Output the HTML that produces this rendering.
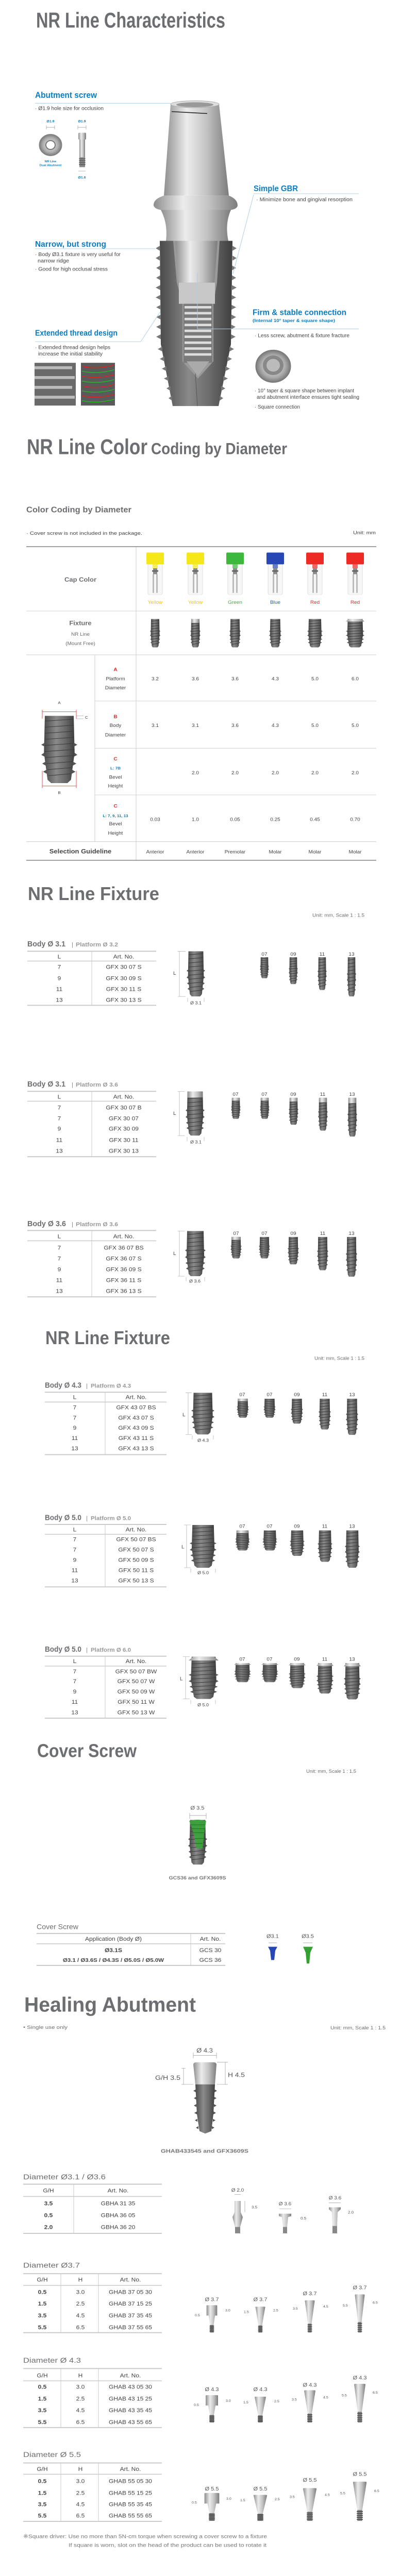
<!DOCTYPE html>
<html><head><meta charset="utf-8"><style>
html,body{margin:0;padding:0;background:#fff;height:100%;overflow:hidden}
svg{display:block;position:fixed;left:0;top:0;width:100vw;height:100vh}
text{font-family:"Liberation Sans",sans-serif}
</style></head><body>
<svg xmlns="http://www.w3.org/2000/svg" viewBox="0 0 776 5240" preserveAspectRatio="none">
<defs>
<linearGradient id="gs" x1="0" x2="1" y1="0" y2="0"><stop offset="0" stop-color="#8e8e8e"/><stop offset=".35" stop-color="#ececec"/><stop offset=".65" stop-color="#c4c4c4"/><stop offset="1" stop-color="#7c7c7c"/></linearGradient>
<linearGradient id="gf" x1="0" x2="1" y1="0" y2="0"><stop offset="0" stop-color="#4a4a4a"/><stop offset=".4" stop-color="#8a8a8a"/><stop offset=".7" stop-color="#6a6a6a"/><stop offset="1" stop-color="#3e3e3e"/></linearGradient>
<radialGradient id="gr"><stop offset="0" stop-color="#eee"/><stop offset=".7" stop-color="#aaa"/><stop offset="1" stop-color="#777"/></radialGradient>
<symbol id="fx" viewBox="0 0 40 100" preserveAspectRatio="none">
<path d="M4,0 H36 L37,55 L33,95 L29,100 H11 L7,95 L3,55 Z" fill="url(#gf)"/>
<path vector-effect="non-scaling-stroke" stroke="#3a3a3a" stroke-width="1" fill="none" d="M4,8 L36,5 M4,17 L36,14 M4,26 L36,23 M4,35 L36,32 M4,44 L36,41 M4,53 L37,50 M5,62 L36,59 M6,71 L35,68 M7,80 L34,77 M8,89 L33,86"/>
<path d="M4,40 L0,43 L4,46 Z M3,55 L0,58 L4,61 Z M5,68 L1,71 L5,74 Z M6,80 L2,83 L6,86 Z M36,40 L40,43 L36,46 Z M37,55 L40,58 L36,61 Z M35,68 L39,71 L35,74 Z M34,80 L38,83 L34,86 Z" fill="#555"/>
</symbol>
<symbol id="fxb" viewBox="0 0 40 100" preserveAspectRatio="none">
<use href="#fx" x="0" y="0" width="40" height="100"/>
<path d="M4,0 H36 L36,14 H4 Z" fill="url(#gs)"/>
</symbol>
<symbol id="fxw" viewBox="0 0 40 100" preserveAspectRatio="none">
<use href="#fx" x="0" y="0" width="40" height="100"/>
<path d="M6,0 H34 L40,9 H0 Z" fill="url(#gs)"/>
</symbol>
<symbol id="cap" viewBox="0 0 34 86" preserveAspectRatio="none">
<rect x="3" y="20" width="28" height="66" rx="4" fill="#f7f7f7" stroke="#ddd"/>
<rect x="0" y="0" width="34" height="24" rx="2" fill="currentColor"/>
<rect x="12" y="24" width="10" height="8" fill="currentColor" opacity=".7"/>
<rect x="13" y="32" width="8" height="12" fill="#8a8a8a"/>
<rect x="11" y="36" width="12" height="3" fill="#666"/>
<rect x="12" y="44" width="3" height="38" fill="#bbb"/>
<rect x="19" y="44" width="3" height="38" fill="#bbb"/>
</symbol>
<symbol id="ha1" viewBox="0 0 30 100" preserveAspectRatio="none">
<path d="M3,2 Q3,0 6,0 H24 Q27,0 27,2 V38 H22 L19,72 H11 L8,38 H3 Z" fill="url(#gs)"/>
<rect x="11" y="72" width="8" height="28" fill="#888"/>
<path d="M10,76 H20 M10,81 H20 M10,86 H20 M10,91 H20 M10,96 H20" stroke="#444" stroke-width="1.5" vector-effect="non-scaling-stroke"/>
</symbol>
<symbol id="ha2" viewBox="0 0 30 100" preserveAspectRatio="none">
<path d="M4,2 Q4,0 7,0 H23 Q26,0 26,2 L19,72 H11 Z" fill="url(#gs)"/>
<rect x="11" y="72" width="8" height="28" fill="#888"/>
<path d="M10,76 H20 M10,81 H20 M10,86 H20 M10,91 H20 M10,96 H20" stroke="#444" stroke-width="1.5" vector-effect="non-scaling-stroke"/>
</symbol>
</defs>

<text x="70" y="56" font-size="44" font-weight="bold" fill="#6d6e71" textLength="367" lengthAdjust="spacingAndGlyphs">NR Line Characteristics</text>

<g>
<path d="M331,212 L425,212 L444,398 L318,398 Z" fill="url(#gs)"/>
<ellipse cx="378" cy="212" rx="47" ry="7" fill="#ddd" stroke="#aaa"/>
<ellipse cx="378" cy="213" rx="36" ry="5" fill="#999"/>
<path d="M333,227 L402,231" stroke="#222" stroke-width="1.6"/>
<path d="M318,398 Q297,405 298,418 Q300,425 312,427 L448,427 Q460,425 461,418 Q461,405 444,398 Z" fill="url(#gs)"/>
<path d="M312,427 Q326,455 322,490 L443,490 Q436,455 448,427 Z" fill="url(#gs)"/>
<path d="M310,490 L451,490 L448,700 L424,826 L335,826 L312,700 Z" fill="url(#gf)"/>
<path d="M310,500 l-8,5 l8,5 Z M310,520 l-8,5 l8,5 Z M311,540 l-8,5 l8,5 Z M311,560 l-8,5 l8,5 Z M311,580 l-9,5 l9,5 Z M311,600 l-9,5 l9,5 Z M312,620 l-9,5 l9,5 Z M312,640 l-9,5 l9,5 Z M312,660 l-9,5 l9,5 Z M312,680 l-9,5 l9,5 Z M315,705 l-9,5 l9,5 Z M319,725 l-9,5 l9,5 Z M323,745 l-9,5 l9,5 Z M327,765 l-9,5 l9,5 Z M331,785 l-8,5 l8,5 Z M334,805 l-7,5 l7,5 Z" fill="#777"/>
<path d="M451,500 l8,5 l-8,5 Z M451,520 l8,5 l-8,5 Z M450,540 l8,5 l-8,5 Z M450,560 l8,5 l-8,5 Z M450,580 l9,5 l-9,5 Z M449,600 l9,5 l-9,5 Z M449,620 l9,5 l-9,5 Z M449,640 l9,5 l-9,5 Z M448,660 l9,5 l-9,5 Z M448,680 l9,5 l-9,5 Z M445,705 l9,5 l-9,5 Z M441,725 l9,5 l-9,5 Z M437,745 l9,5 l-9,5 Z M433,765 l9,5 l-9,5 Z M429,785 l8,5 l-8,5 Z M426,805 l7,5 l-7,5 Z" fill="#777"/>
<path d="M336,490 L426,490 L421,575 L414,618 L414,735 L384,770 L354,735 L354,618 L343,575 Z" fill="#9a9a9a"/>
<path d="M340,490 L422,490 L416,575 L346,575 Z" fill="url(#gs)"/>
<rect x="347" y="575" width="70" height="43" fill="#c8c8c8"/>
<rect x="356" y="618" width="56" height="120" fill="#7a7a7a"/>
<path d="M358,625 H410 M358,637 H410 M358,649 H410 M358,661 H410 M358,673 H410 M358,685 H410 M358,697 H410 M358,709 H410 M358,721 H410" stroke="#ddd" stroke-width="5"/>
<path d="M362,735 L406,735 L384,765 Z" fill="#aaa"/>
<path d="M379,760 L383,826" stroke="#555"/>
</g>

<text x="68" y="199" font-size="17" font-weight="bold" fill="#0b7dc4" textLength="120" lengthAdjust="spacingAndGlyphs">Abutment screw</text>
<line x1="68" y1="210" x2="331" y2="210" stroke="#a9cfe8"/>
<text x="68" y="224" font-size="10.5" fill="#444" textLength="133" lengthAdjust="spacingAndGlyphs">· Ø1.9 hole size for occlusion</text>
<text x="98" y="249" font-size="7" font-weight="bold" fill="#0b7dc4" text-anchor="middle">Ø1.9</text>
<text x="159" y="249" font-size="7" font-weight="bold" fill="#0b7dc4" text-anchor="middle">Ø1.9</text>
<path d="M90,259 H106 M90,255 V263 M106,255 V263 M151,259 H167 M151,255 V263 M167,255 V263" stroke="#999" stroke-width=".7"/>
<circle cx="98" cy="295" r="22" fill="url(#gr)" stroke="#888"/>
<circle cx="98" cy="295" r="9" fill="#fff" stroke="#777" stroke-width="2"/>
<rect x="152" y="270" width="15" height="14" rx="2" fill="url(#gs)"/>
<rect x="154" y="284" width="11" height="36" fill="url(#gs)"/>
<rect x="154" y="320" width="11" height="20" fill="#888"/>
<path d="M153,323 H166 M153,327 H166 M153,331 H166 M153,335 H166" stroke="#444"/>
<text x="98" y="330" font-size="6" font-weight="bold" fill="#0b7dc4" text-anchor="middle">NR Line</text>
<text x="98" y="338" font-size="6" font-weight="bold" fill="#0b7dc4" text-anchor="middle">Dual Abutment</text>
<path d="M152,348 H166" stroke="#999" stroke-width=".7"/>
<text x="159" y="363" font-size="7" font-weight="bold" fill="#0b7dc4" text-anchor="middle">Ø1.6</text>

<text x="492" y="389" font-size="16" font-weight="bold" fill="#0b7dc4" textLength="86" lengthAdjust="spacingAndGlyphs">Simple GBR</text>
<line x1="492" y1="394" x2="696" y2="394" stroke="#a9cfe8"/>
<line x1="492" y1="396" x2="452" y2="557" stroke="#a9cfe8"/>
<text x="497" y="409" font-size="10.5" fill="#444" textLength="187" lengthAdjust="spacingAndGlyphs">· Minimize bone and gingival resorption</text>

<text x="68" y="502" font-size="16" font-weight="bold" fill="#0b7dc4" textLength="138" lengthAdjust="spacingAndGlyphs">Narrow, but strong</text>
<line x1="68" y1="506" x2="301" y2="506" stroke="#a9cfe8"/>
<text x="68" y="521" font-size="10.5" fill="#444" textLength="166" lengthAdjust="spacingAndGlyphs">· Body Ø3.1 fixture is very useful for</text>
<text x="73" y="534" font-size="10.5" fill="#444" textLength="61" lengthAdjust="spacingAndGlyphs">narrow ridge</text>
<text x="68" y="551" font-size="10.5" fill="#444" textLength="141" lengthAdjust="spacingAndGlyphs">· Good for high occlusal stress</text>

<text x="490" y="641" font-size="16" font-weight="bold" fill="#0b7dc4" textLength="182" lengthAdjust="spacingAndGlyphs">Firm &amp; stable connection</text>
<text x="490" y="655" font-size="8.5" font-weight="bold" fill="#0b7dc4" textLength="160" lengthAdjust="spacingAndGlyphs">(Internal 10° taper &amp; square shape)</text>
<line x1="383" y1="669" x2="696" y2="669" stroke="#a9cfe8"/>
<line x1="383" y1="555" x2="383" y2="669" stroke="#a9cfe8"/>
<text x="494" y="686" font-size="10.5" fill="#444" textLength="184" lengthAdjust="spacingAndGlyphs">· Less screw, abutment &amp; fixture fracture</text>
<ellipse cx="530" cy="745" rx="34" ry="33" fill="url(#gr)" stroke="#777"/>
<circle cx="530" cy="743" r="20" fill="#888"/>
<circle cx="530" cy="743" r="13" fill="#bbb"/>
<text x="494" y="798" font-size="10.5" fill="#444" textLength="193" lengthAdjust="spacingAndGlyphs">· 10° taper &amp; square shape between implant</text>
<text x="498" y="811" font-size="10.5" fill="#444" textLength="199" lengthAdjust="spacingAndGlyphs">and abutment interface ensures tight sealing</text>
<text x="494" y="831" font-size="10.5" fill="#444" textLength="88" lengthAdjust="spacingAndGlyphs">· Square connection</text>

<text x="68" y="683" font-size="16" font-weight="bold" fill="#0b7dc4" textLength="160" lengthAdjust="spacingAndGlyphs">Extended thread design</text>
<line x1="68" y1="695" x2="273" y2="695" stroke="#a9cfe8"/>
<line x1="273" y1="695" x2="311" y2="634" stroke="#a9cfe8"/>
<text x="68" y="710" font-size="10.5" fill="#444" textLength="146" lengthAdjust="spacingAndGlyphs">· Extended thread design helps</text>
<text x="74" y="723" font-size="10.5" fill="#444" textLength="125" lengthAdjust="spacingAndGlyphs">increase the initial stability</text>
<rect x="67" y="738" width="80" height="87" fill="#6a6a6a"/>
<path d="M67,748 H140 M67,768 H145 M67,788 H140 M67,808 H145" stroke="#bbb" stroke-width="6"/>
<rect x="157" y="738" width="66" height="87" fill="#5a5a5a"/>
<path d="M159,745 Q190,752 222,742 M159,765 Q190,772 222,762 M159,785 Q190,792 222,782 M159,805 Q190,812 222,802" stroke="#d22" stroke-width="1.5" fill="none"/>
<path d="M159,755 Q190,762 222,752 M159,775 Q190,782 222,772 M159,795 Q190,802 222,792 M159,815 Q190,822 222,812" stroke="#2b2" stroke-width="1.5" fill="none"/>

<text x="52" y="924" font-size="44" font-weight="bold" fill="#6d6e71" textLength="234" lengthAdjust="spacingAndGlyphs">NR Line Color</text>
<text x="293" y="924" font-size="33" font-weight="bold" fill="#6d6e71" textLength="264" lengthAdjust="spacingAndGlyphs">Coding by Diameter</text>
<text x="51" y="1042" font-size="16" font-weight="bold" fill="#6d6e71" textLength="204" lengthAdjust="spacingAndGlyphs">Color Coding by Diameter</text>
<text x="51" y="1088" font-size="10" fill="#444" textLength="225" lengthAdjust="spacingAndGlyphs">· Cover screw is not included in the package.</text>
<text x="685" y="1087" font-size="10" fill="#444" textLength="44" lengthAdjust="spacingAndGlyphs">Unit: mm</text>

<g stroke="#ccc" stroke-width="1">
<line x1="51" y1="1243" x2="730" y2="1243"/>
<line x1="51" y1="1332" x2="730" y2="1332"/>
<line x1="184" y1="1426" x2="730" y2="1426"/>
<line x1="184" y1="1522" x2="730" y2="1522"/>
<line x1="184" y1="1617" x2="730" y2="1617"/>
<line x1="51" y1="1712" x2="730" y2="1712"/>
<line x1="264" y1="1112" x2="264" y2="1750"/>
<line x1="184" y1="1332" x2="184" y2="1712"/>
</g>
<line x1="51" y1="1112" x2="730" y2="1112" stroke="#999" stroke-width="2"/>
<line x1="51" y1="1750" x2="730" y2="1750" stroke="#999" stroke-width="2"/>

<use href="#cap" x="284" y="1124" width="34" height="86" color="#f5e719"/>
<use href="#cap" x="362" y="1124" width="34" height="86" color="#f5e719"/>
<use href="#cap" x="439" y="1124" width="34" height="86" color="#3cb83c"/>
<use href="#cap" x="517" y="1124" width="34" height="86" color="#2747b5"/>
<use href="#cap" x="594" y="1124" width="34" height="86" color="#ee2a24"/>
<use href="#cap" x="672" y="1124" width="34" height="86" color="#ee2a24"/>
<g font-size="10" text-anchor="middle">
<text x="301" y="1228" fill="#eec900">Yellow</text>
<text x="379" y="1228" fill="#eec900">Yellow</text>
<text x="456" y="1228" fill="#3cb44a">Green</text>
<text x="534" y="1228" fill="#1a5fc0">Blue</text>
<text x="611" y="1228" fill="#e8282a">Red</text>
<text x="689" y="1228" fill="#e8282a">Red</text>
</g>
<text x="156" y="1183" font-size="13" font-weight="bold" fill="#6d6e71" text-anchor="middle">Cap Color</text>
<text x="156" y="1272" font-size="13" font-weight="bold" fill="#6d6e71" text-anchor="middle">Fixture</text>
<text x="156" y="1293" font-size="10" fill="#6d6e71" text-anchor="middle">NR Line</text>
<text x="156" y="1312" font-size="10" fill="#6d6e71" text-anchor="middle">(Mount Free)</text>
<use href="#fx" x="291" y="1259" width="20" height="58"/>
<use href="#fxb" x="369" y="1259" width="20" height="58"/>
<use href="#fx" x="445" y="1259" width="22" height="58"/>
<use href="#fx" x="522" y="1259" width="24" height="58"/>
<use href="#fx" x="596" y="1259" width="30" height="58"/>
<use href="#fxw" x="671" y="1259" width="36" height="58"/>

<g font-size="10" fill="#444" text-anchor="middle">
<text x="224" y="1365" fill="#e8282a" font-weight="bold">A</text>
<text x="224" y="1384">Platform</text><text x="224" y="1402">Diameter</text>
<text x="301" y="1384">3.2</text><text x="379" y="1384">3.6</text><text x="456" y="1384">3.6</text><text x="534" y="1384">4.3</text><text x="611" y="1384">5.0</text><text x="689" y="1384">6.0</text>
<text x="224" y="1461" fill="#e8282a" font-weight="bold">B</text>
<text x="224" y="1479">Body</text><text x="224" y="1498">Diameter</text>
<text x="301" y="1479">3.1</text><text x="379" y="1479">3.1</text><text x="456" y="1479">3.6</text><text x="534" y="1479">4.3</text><text x="611" y="1479">5.0</text><text x="689" y="1479">5.0</text>
<text x="224" y="1547" fill="#e8282a" font-weight="bold">C</text>
<text x="224" y="1565" fill="#0b7dc4" font-weight="bold" font-size="8">L: 7B</text>
<text x="224" y="1584">Bevel</text><text x="224" y="1602">Height</text>
<text x="379" y="1575">2.0</text><text x="456" y="1575">2.0</text><text x="534" y="1575">2.0</text><text x="611" y="1575">2.0</text><text x="689" y="1575">2.0</text>
<text x="224" y="1643" fill="#e8282a" font-weight="bold">C</text>
<text x="224" y="1662" fill="#0b7dc4" font-weight="bold" font-size="8">L: 7, 9, 11, 13</text>
<text x="224" y="1679">Bevel</text><text x="224" y="1698">Height</text>
<text x="301" y="1670">0.03</text><text x="379" y="1670">1.0</text><text x="456" y="1670">0.05</text><text x="534" y="1670">0.25</text><text x="611" y="1670">0.45</text><text x="689" y="1670">0.70</text>
<text x="301" y="1736">Anterior</text><text x="379" y="1736">Anterior</text><text x="456" y="1736">Premolar</text><text x="534" y="1736">Molar</text><text x="611" y="1736">Molar</text><text x="689" y="1736">Molar</text>
</g>
<text x="156" y="1736" font-size="13" font-weight="bold" fill="#444" text-anchor="middle">Selection Guideline</text>
<use href="#fx" x="80" y="1456" width="70" height="137"/>
<path d="M82,1448 H148 M82,1444 V1462 M148,1444 V1462 M82,1568 V1603 M148,1568 V1603 M82,1599 H148" stroke="#e8282a" stroke-width=".8" fill="none"/>
<path d="M148,1456 H162 M148,1462 H162" stroke="#999" stroke-width=".7"/>
<text x="115" y="1432" font-size="8" fill="#444" text-anchor="middle">A</text>
<text x="115" y="1615" font-size="8" fill="#444" text-anchor="middle">B</text>
<text x="165" y="1462" font-size="8" fill="#444">C</text>

<text x="54" y="1831" font-size="38" font-weight="bold" fill="#6d6e71" textLength="255" lengthAdjust="spacingAndGlyphs">NR Line Fixture</text>
<text x="606" y="1865" font-size="10" fill="#6d6e71" textLength="101" lengthAdjust="spacingAndGlyphs">Unit: mm, Scale 1 : 1.5</text>

<text x="53" y="1925" font-size="15" font-weight="bold" fill="#6d6e71" textLength="74" lengthAdjust="spacingAndGlyphs">Body Ø 3.1</text>
<text x="139" y="1925" font-size="12" fill="#888">|</text>
<text x="147" y="1925" font-size="12" font-weight="bold" fill="#999" textLength="82" lengthAdjust="spacingAndGlyphs">Platform Ø 3.2</text>
<g stroke="#c8c8c8"><line x1="53" y1="1935" x2="303" y2="1935" stroke-width="2"/><line x1="53" y1="1955" x2="303" y2="1955" stroke-width="1.5"/><line x1="53" y1="2045" x2="303" y2="2045" stroke-width="2"/><line x1="178" y1="1935" x2="178" y2="2045"/></g>
<g font-size="12" fill="#444" text-anchor="middle">
<text x="115" y="1950">L</text><text x="240" y="1950">Art. No.</text>
<text x="115" y="1971">7</text><text x="240" y="1971">GFX 30 07 S</text>
<text x="115" y="1994">9</text><text x="240" y="1994">GFX 30 09 S</text>
<text x="115" y="2016">11</text><text x="240" y="2016">GFX 30 11 S</text>
<text x="115" y="2038">13</text><text x="240" y="2038">GFX 30 13 S</text>
</g>
<use href="#fx" x="362" y="1935" width="36" height="92"/>
<path d="M345,1935 H360 M348,1935 V2027 M345,2027 H360 M364,2030 V2038 M396,2030 V2038" stroke="#aaa" stroke-width=".7"/>
<text x="336" y="1983" font-size="10" fill="#444">L</text>
<text x="380" y="2043" font-size="9" fill="#444" text-anchor="middle">Ø 3.1</text>
<g font-size="10" fill="#444" text-anchor="middle"><text x="513" y="1944">07</text><text x="569" y="1944">09</text><text x="625" y="1944">11</text><text x="682" y="1944">13</text></g>
<use href="#fx" x="504" y="1947" width="18" height="43"/>
<use href="#fx" x="560" y="1947" width="18" height="55"/>
<use href="#fx" x="616" y="1947" width="18" height="67"/>
<use href="#fx" x="673" y="1947" width="18" height="80"/>

<text x="53" y="2210" font-size="15" font-weight="bold" fill="#6d6e71" textLength="74" lengthAdjust="spacingAndGlyphs">Body Ø 3.1</text>
<text x="139" y="2210" font-size="12" fill="#888">|</text>
<text x="147" y="2210" font-size="12" font-weight="bold" fill="#999" textLength="82" lengthAdjust="spacingAndGlyphs">Platform Ø 3.6</text>
<g stroke="#c8c8c8"><line x1="53" y1="2220" x2="303" y2="2220" stroke-width="2"/><line x1="53" y1="2240" x2="303" y2="2240" stroke-width="1.5"/><line x1="53" y1="2353" x2="303" y2="2353" stroke-width="2"/><line x1="178" y1="2220" x2="178" y2="2353"/></g>
<g font-size="12" fill="#444" text-anchor="middle">
<text x="115" y="2235">L</text><text x="240" y="2235">Art. No.</text>
<text x="115" y="2257">7</text><text x="240" y="2257">GFX 30 07 B</text>
<text x="115" y="2279">7</text><text x="240" y="2279">GFX 30 07</text>
<text x="115" y="2300">9</text><text x="240" y="2300">GFX 30 09</text>
<text x="115" y="2323">11</text><text x="240" y="2323">GFX 30 11</text>
<text x="115" y="2345">13</text><text x="240" y="2345">GFX 30 13</text>
</g>
<use href="#fxb" x="360" y="2220" width="37" height="90"/>
<path d="M345,2220 H358 M348,2220 V2310 M345,2310 H358 M363,2313 V2321 M396,2313 V2321" stroke="#aaa" stroke-width=".7"/>
<text x="336" y="2268" font-size="10" fill="#444">L</text>
<text x="380" y="2326" font-size="9" fill="#444" text-anchor="middle">Ø 3.1</text>
<g font-size="10" fill="#444" text-anchor="middle"><text x="457" y="2229">07</text><text x="513" y="2229">07</text><text x="569" y="2229">09</text><text x="626" y="2229">11</text><text x="683" y="2229">13</text></g>
<use href="#fxb" x="448" y="2233" width="19" height="43"/>
<use href="#fxb" x="504" y="2233" width="19" height="43"/>
<use href="#fxb" x="560" y="2233" width="19" height="55"/>
<use href="#fxb" x="617" y="2233" width="19" height="67"/>
<use href="#fxb" x="674" y="2233" width="19" height="79"/>

<text x="53" y="2494" font-size="15" font-weight="bold" fill="#6d6e71" textLength="75" lengthAdjust="spacingAndGlyphs">Body Ø 3.6</text>
<text x="139" y="2494" font-size="12" fill="#888">|</text>
<text x="147" y="2494" font-size="12" font-weight="bold" fill="#999" textLength="82" lengthAdjust="spacingAndGlyphs">Platform Ø 3.6</text>
<g stroke="#c8c8c8"><line x1="53" y1="2503" x2="303" y2="2503" stroke-width="2"/><line x1="53" y1="2524" x2="303" y2="2524" stroke-width="1.5"/><line x1="53" y1="2638" x2="303" y2="2638" stroke-width="2"/><line x1="178" y1="2503" x2="178" y2="2638"/></g>
<g font-size="12" fill="#444" text-anchor="middle">
<text x="115" y="2519">L</text><text x="240" y="2519">Art. No.</text>
<text x="115" y="2542">7</text><text x="240" y="2542">GFX 36 07 BS</text>
<text x="115" y="2564">7</text><text x="240" y="2564">GFX 36 07 S</text>
<text x="115" y="2586">9</text><text x="240" y="2586">GFX 36 09 S</text>
<text x="115" y="2608">11</text><text x="240" y="2608">GFX 36 11 S</text>
<text x="115" y="2630">13</text><text x="240" y="2630">GFX 36 13 S</text>
</g>
<use href="#fx" x="359" y="2504" width="40" height="92"/>
<path d="M345,2504 H358 M348,2504 V2596 M345,2596 H358 M361,2598 V2606 M397,2598 V2606" stroke="#aaa" stroke-width=".7"/>
<text x="336" y="2553" font-size="10" fill="#444">L</text>
<text x="378" y="2609" font-size="9" fill="#444" text-anchor="middle">Ø 3.6</text>
<g font-size="10" fill="#444" text-anchor="middle"><text x="458" y="2512">07</text><text x="513" y="2512">07</text><text x="569" y="2512">09</text><text x="626" y="2512">11</text><text x="682" y="2512">13</text></g>
<use href="#fxb" x="447" y="2516" width="22" height="44"/>
<use href="#fx" x="502" y="2516" width="22" height="44"/>
<use href="#fx" x="558" y="2516" width="22" height="56"/>
<use href="#fx" x="615" y="2516" width="22" height="68"/>
<use href="#fx" x="671" y="2516" width="22" height="81"/>

<text x="88" y="2734" font-size="38" font-weight="bold" fill="#6d6e71" textLength="242" lengthAdjust="spacingAndGlyphs">NR Line Fixture</text>
<text x="610" y="2766" font-size="10" fill="#6d6e71" textLength="97" lengthAdjust="spacingAndGlyphs">Unit: mm, Scale 1 : 1.5</text>

<text x="87" y="2823" font-size="15" font-weight="bold" fill="#6d6e71" textLength="71" lengthAdjust="spacingAndGlyphs">Body Ø 4.3</text>
<text x="167" y="2823" font-size="12" fill="#888">|</text>
<text x="176" y="2823" font-size="12" font-weight="bold" fill="#999" textLength="78" lengthAdjust="spacingAndGlyphs">Platform Ø 4.3</text>
<g stroke="#c8c8c8"><line x1="87" y1="2832" x2="323" y2="2832" stroke-width="2"/><line x1="87" y1="2852" x2="323" y2="2852" stroke-width="1.5"/><line x1="87" y1="2959" x2="323" y2="2959" stroke-width="2"/><line x1="204" y1="2832" x2="204" y2="2959"/></g>
<g font-size="12" fill="#444" text-anchor="middle">
<text x="145" y="2846">L</text><text x="264" y="2846">Art. No.</text>
<text x="145" y="2867">7</text><text x="264" y="2867">GFX 43 07 BS</text>
<text x="145" y="2888">7</text><text x="264" y="2888">GFX 43 07 S</text>
<text x="145" y="2908">9</text><text x="264" y="2908">GFX 43 09 S</text>
<text x="145" y="2929">11</text><text x="264" y="2929">GFX 43 11 S</text>
<text x="145" y="2950">13</text><text x="264" y="2950">GFX 43 13 S</text>
</g>
<use href="#fx" x="371" y="2833" width="45" height="85"/>
<path d="M360,2833 H372 M365,2833 V2918 M360,2918 H372 M373,2920 V2928 M414,2920 V2928" stroke="#aaa" stroke-width=".7"/>
<text x="354" y="2881" font-size="10" fill="#444">L</text>
<text x="394" y="2933" font-size="9" fill="#444" text-anchor="middle">Ø 4.3</text>
<g font-size="10" fill="#444" text-anchor="middle"><text x="470" y="2840">07</text><text x="523" y="2840">07</text><text x="576" y="2840">09</text><text x="630" y="2840">11</text><text x="683" y="2840">13</text></g>
<use href="#fxb" x="459" y="2845" width="24" height="39"/>
<use href="#fx" x="511" y="2845" width="24" height="39"/>
<use href="#fx" x="564" y="2845" width="24" height="51"/>
<use href="#fx" x="618" y="2845" width="24" height="63"/>
<use href="#fx" x="671" y="2845" width="24" height="74"/>

<text x="87" y="3092" font-size="15" font-weight="bold" fill="#6d6e71" textLength="71" lengthAdjust="spacingAndGlyphs">Body Ø 5.0</text>
<text x="167" y="3092" font-size="12" fill="#888">|</text>
<text x="176" y="3092" font-size="12" font-weight="bold" fill="#999" textLength="78" lengthAdjust="spacingAndGlyphs">Platform Ø 5.0</text>
<g stroke="#c8c8c8"><line x1="87" y1="3101" x2="323" y2="3101" stroke-width="2"/><line x1="87" y1="3121" x2="323" y2="3121" stroke-width="1.5"/><line x1="87" y1="3228" x2="323" y2="3228" stroke-width="2"/><line x1="204" y1="3101" x2="204" y2="3228"/></g>
<g font-size="12" fill="#444" text-anchor="middle">
<text x="145" y="3115">L</text><text x="264" y="3115">Art. No.</text>
<text x="145" y="3135">7</text><text x="264" y="3135">GFX 50 07 BS</text>
<text x="145" y="3156">7</text><text x="264" y="3156">GFX 50 07 S</text>
<text x="145" y="3177">9</text><text x="264" y="3177">GFX 50 09 S</text>
<text x="145" y="3198">11</text><text x="264" y="3198">GFX 50 11 S</text>
<text x="145" y="3219">13</text><text x="264" y="3219">GFX 50 13 S</text>
</g>
<use href="#fx" x="368" y="3102" width="52" height="87"/>
<path d="M357,3102 H370 M362,3102 V3189 M357,3189 H370 M370,3191 V3199 M418,3191 V3199" stroke="#aaa" stroke-width=".7"/>
<text x="352" y="3150" font-size="10" fill="#444">L</text>
<text x="394" y="3202" font-size="9" fill="#444" text-anchor="middle">Ø 5.0</text>
<g font-size="10" fill="#444" text-anchor="middle"><text x="470" y="3108">07</text><text x="523" y="3108">07</text><text x="576" y="3108">09</text><text x="630" y="3108">11</text><text x="683" y="3108">13</text></g>
<use href="#fxb" x="456" y="3113" width="29" height="41"/>
<use href="#fx" x="509" y="3113" width="29" height="41"/>
<use href="#fx" x="562" y="3113" width="29" height="52"/>
<use href="#fx" x="616" y="3113" width="29" height="64"/>
<use href="#fx" x="669" y="3113" width="29" height="76"/>

<text x="87" y="3360" font-size="15" font-weight="bold" fill="#6d6e71" textLength="71" lengthAdjust="spacingAndGlyphs">Body Ø 5.0</text>
<text x="167" y="3360" font-size="12" fill="#888">|</text>
<text x="176" y="3360" font-size="12" font-weight="bold" fill="#999" textLength="78" lengthAdjust="spacingAndGlyphs">Platform Ø 6.0</text>
<g stroke="#c8c8c8"><line x1="87" y1="3369" x2="323" y2="3369" stroke-width="2"/><line x1="87" y1="3389" x2="323" y2="3389" stroke-width="1.5"/><line x1="87" y1="3495" x2="323" y2="3495" stroke-width="2"/><line x1="204" y1="3369" x2="204" y2="3495"/></g>
<g font-size="12" fill="#444" text-anchor="middle">
<text x="145" y="3383">L</text><text x="264" y="3383">Art. No.</text>
<text x="145" y="3404">7</text><text x="264" y="3404">GFX 50 07 BW</text>
<text x="145" y="3424">7</text><text x="264" y="3424">GFX 50 07 W</text>
<text x="145" y="3445">9</text><text x="264" y="3445">GFX 50 09 W</text>
<text x="145" y="3466">11</text><text x="264" y="3466">GFX 50 11 W</text>
<text x="145" y="3487">13</text><text x="264" y="3487">GFX 50 13 W</text>
</g>
<use href="#fxw" x="366" y="3370" width="58" height="86"/>
<path d="M355,3370 H368 M360,3370 V3456 M355,3456 H368 M370,3458 V3466 M418,3458 V3466" stroke="#aaa" stroke-width=".7"/>
<text x="349" y="3418" font-size="10" fill="#444">L</text>
<text x="394" y="3471" font-size="9" fill="#444" text-anchor="middle">Ø 5.0</text>
<g font-size="10" fill="#444" text-anchor="middle"><text x="470" y="3378">07</text><text x="523" y="3378">07</text><text x="576" y="3378">09</text><text x="630" y="3378">11</text><text x="683" y="3378">13</text></g>
<use href="#fxw" x="454" y="3383" width="33" height="39"/>
<use href="#fxw" x="507" y="3383" width="33" height="39"/>
<use href="#fxw" x="560" y="3383" width="33" height="51"/>
<use href="#fxw" x="614" y="3383" width="33" height="62"/>
<use href="#fxw" x="667" y="3383" width="33" height="74"/>

<text x="72" y="3574" font-size="38" font-weight="bold" fill="#6d6e71" textLength="193" lengthAdjust="spacingAndGlyphs">Cover Screw</text>
<text x="594" y="3606" font-size="10" fill="#6d6e71" textLength="97" lengthAdjust="spacingAndGlyphs">Unit: mm, Scale 1 : 1.5</text>
<text x="383" y="3681" font-size="11" fill="#555" text-anchor="middle">Ø 3.5</text>
<path d="M368,3693 H400 M368,3688 V3700 M400,3688 V3700" stroke="#999" stroke-width=".7"/>
<use href="#fx" x="365" y="3702" width="37" height="91"/>
<path d="M367,3704 Q383,3699 400,3704 L396,3730 L393,3760 L381,3760 L376,3730 Z" fill="#3aa53a" opacity=".9"/>
<path d="M369,3712 H398 M370,3720 H397 M372,3728 H396 M378,3740 H394 M379,3750 H393" stroke="#1d6d1d"/>
<text x="383" y="3823" font-size="10" font-weight="bold" fill="#777" text-anchor="middle" textLength="111" lengthAdjust="spacingAndGlyphs">GCS36 and GFX3609S</text>

<text x="71" y="3924" font-size="14" fill="#6d6e71" textLength="81" lengthAdjust="spacingAndGlyphs">Cover Screw</text>
<g stroke="#c8c8c8"><line x1="71" y1="3933" x2="437" y2="3933" stroke-width="2"/><line x1="71" y1="3954" x2="437" y2="3954" stroke-width="1.5"/><line x1="71" y1="3998" x2="437" y2="3998" stroke-width="2"/><line x1="370" y1="3933" x2="370" y2="3998"/></g>
<g font-size="12" fill="#444" text-anchor="middle">
<text x="220" y="3948">Application (Body Ø)</text><text x="408" y="3948">Art. No.</text>
<text x="220" y="3971" font-weight="bold">Ø3.1S</text><text x="408" y="3971">GCS 30</text>
<text x="220" y="3991" font-weight="bold" font-size="11" textLength="196" lengthAdjust="spacingAndGlyphs">Ø3.1 / Ø3.6S / Ø4.3S / Ø5.0S / Ø5.0W</text><text x="408" y="3991">GCS 36</text>
</g>
<text x="529" y="3942" font-size="11" fill="#555" text-anchor="middle">Ø3.1</text>
<text x="597" y="3942" font-size="11" fill="#555" text-anchor="middle">Ø3.5</text>
<path d="M521,3952 H537 M588,3952 H606" stroke="#999" stroke-width=".7"/>
<path d="M520,3960 H538 L534,3968 L532,3987 H526 L524,3968 Z" fill="#2747b5"/>
<path d="M588,3960 H607 L602,3972 L600,3994 H595 L593,3972 Z" fill="#35a135"/>

<text x="47" y="4092" font-size="42" font-weight="bold" fill="#6d6e71" textLength="333" lengthAdjust="spacingAndGlyphs">Healing Abutment</text>
<text x="45" y="4127" font-size="10" fill="#6d6e71" textLength="86" lengthAdjust="spacingAndGlyphs">• Single use only</text>
<text x="641" y="4128" font-size="10" fill="#6d6e71" textLength="107" lengthAdjust="spacingAndGlyphs">Unit: mm, Scale 1 : 1.5</text>
<text x="397" y="4175" font-size="13" fill="#555" text-anchor="middle">Ø 4.3</text>
<path d="M375,4181 H420 M375,4175 V4187 M420,4175 V4187" stroke="#999" stroke-width=".7"/>
<path d="M375,4200 Q375,4195 382,4195 H414 Q420,4195 420,4200 L417,4240 H379 Z" fill="url(#gs)"/>
<path d="M379,4240 H417 L414,4300 L410,4335 L398,4340 L387,4335 L382,4300 Z" fill="url(#gf)"/>
<path d="M380,4250 l-5,3 l5,3 Z M381,4265 l-5,3 l5,3 Z M381,4280 l-5,3 l5,3 Z M382,4295 l-5,3 l5,3 Z M383,4310 l-5,3 l5,3 Z M385,4325 l-5,3 l5,3 Z M416,4250 l5,3 l-5,3 Z M415,4265 l5,3 l-5,3 Z M415,4280 l5,3 l-5,3 Z M414,4295 l5,3 l-5,3 Z M413,4310 l5,3 l-5,3 Z M411,4325 l5,3 l-5,3 Z" fill="#555"/>
<path d="M352,4207 H360 M356,4207 V4240 M352,4240 H375 M421,4195 H442 M437,4195 V4240 M421,4240 H442" stroke="#999" stroke-width=".7"/>
<text x="301" y="4231" font-size="13" fill="#555" textLength="49" lengthAdjust="spacingAndGlyphs">G/H 3.5</text>
<text x="442" y="4225" font-size="13" fill="#555" textLength="33" lengthAdjust="spacingAndGlyphs">H 4.5</text>
<text x="397" y="4379" font-size="11" font-weight="bold" fill="#777" text-anchor="middle" textLength="170" lengthAdjust="spacingAndGlyphs">GHAB433545 and GFX3609S</text>

<text x="45" y="4433" font-size="14" fill="#6d6e71" textLength="160" lengthAdjust="spacingAndGlyphs">Diameter Ø3.1 / Ø3.6</text>
<g stroke="#c8c8c8"><line x1="45" y1="4443" x2="314" y2="4443" stroke-width="2"/><line x1="45" y1="4468" x2="314" y2="4468" stroke-width="1.5"/><line x1="45" y1="4543" x2="314" y2="4543" stroke-width="2"/><line x1="143" y1="4443" x2="143" y2="4543"/></g>
<g font-size="12" fill="#444" text-anchor="middle">
<text x="94" y="4460">G/H</text><text x="229" y="4460">Art. No.</text>
<text x="94" y="4486" font-weight="bold">3.5</text><text x="229" y="4486">GBHA 31 35</text>
<text x="94" y="4510" font-weight="bold">0.5</text><text x="229" y="4510">GBHA 36 05</text>
<text x="94" y="4534" font-weight="bold">2.0</text><text x="229" y="4534">GBHA 36 20</text>
</g>
<text x="461" y="4458" font-size="10" fill="#555" text-anchor="middle">Ø 2.0</text>
<path d="M455,4464 H467" stroke="#999" stroke-width=".7"/>
<path d="M455,4477 H467 V4500 L471,4510 L466,4530 H456 L451,4510 L455,4500 Z" fill="url(#gs)"/>
<rect x="456" y="4530" width="10" height="13" fill="#888"/>
<path d="M475,4477 V4500" stroke="#999" stroke-width=".7"/>
<text x="488" y="4492" font-size="8" fill="#555">3.5</text>
<text x="553" y="4486" font-size="10" fill="#555" text-anchor="middle">Ø 3.6</text>
<path d="M542,4493 H565" stroke="#999" stroke-width=".7"/>
<path d="M541,4503 H565 V4508 L559,4510 L557,4530 H549 L547,4510 L541,4508 Z" fill="url(#gs)"/>
<rect x="549" y="4530" width="8" height="13" fill="#888"/>
<text x="583" y="4515" font-size="8" fill="#555">0.5</text>
<text x="650" y="4474" font-size="10" fill="#555" text-anchor="middle">Ø 3.6</text>
<path d="M638,4481 H661" stroke="#999" stroke-width=".7"/>
<path d="M638,4490 H661 V4494 L655,4500 L654,4528 H645 L644,4500 L638,4494 Z" fill="url(#gs)"/>
<rect x="645" y="4528" width="9" height="15" fill="#888"/>
<text x="675" y="4503" font-size="8" fill="#555">2.0</text>

<text x="45" y="4613" font-size="14" fill="#6d6e71" textLength="110" lengthAdjust="spacingAndGlyphs">Diameter Ø3.7</text>
<g stroke="#c8c8c8"><line x1="45" y1="4625" x2="314" y2="4625" stroke-width="2"/><line x1="45" y1="4649" x2="314" y2="4649" stroke-width="1.5"/><line x1="45" y1="4745" x2="314" y2="4745" stroke-width="2"/><line x1="118" y1="4625" x2="118" y2="4745"/><line x1="191" y1="4625" x2="191" y2="4745"/></g>
<g font-size="12" fill="#444" text-anchor="middle">
<text x="82" y="4641">G/H</text><text x="156" y="4641">H</text><text x="253" y="4641">Art. No.</text>
<text x="82" y="4666" font-weight="bold">0.5</text><text x="156" y="4666">3.0</text><text x="253" y="4666">GHAB 37 05 30</text>
<text x="82" y="4690" font-weight="bold">1.5</text><text x="156" y="4690">2.5</text><text x="253" y="4690">GHAB 37 15 25</text>
<text x="82" y="4714" font-weight="bold">3.5</text><text x="156" y="4714">4.5</text><text x="253" y="4714">GHAB 37 35 45</text>
<text x="82" y="4738" font-weight="bold">5.5</text><text x="156" y="4738">6.5</text><text x="253" y="4738">GHAB 37 55 65</text>
</g>
<g font-size="11" fill="#555" text-anchor="middle"><text x="411" y="4681">Ø 3.7</text><text x="505" y="4681">Ø 3.7</text><text x="601" y="4669">Ø 3.7</text><text x="698" y="4657">Ø 3.7</text></g>
<use href="#ha1" x="398" y="4689" width="26" height="56"/>
<use href="#ha2" x="492" y="4692" width="26" height="53"/>
<use href="#ha2" x="588" y="4679" width="26" height="66"/>
<use href="#ha2" x="685" y="4667" width="26" height="78"/>
<g font-size="7" fill="#555"><text x="378" y="4712">0.5</text><text x="437" y="4702">3.0</text><text x="473" y="4705">1.5</text><text x="530" y="4702">2.5</text><text x="568" y="4698">3.5</text><text x="627" y="4694">4.5</text><text x="665" y="4692">5.5</text><text x="723" y="4686">6.5</text></g>

<text x="45" y="4806" font-size="14" fill="#6d6e71" textLength="112" lengthAdjust="spacingAndGlyphs">Diameter Ø 4.3</text>
<g stroke="#c8c8c8"><line x1="45" y1="4818" x2="314" y2="4818" stroke-width="2"/><line x1="45" y1="4843" x2="314" y2="4843" stroke-width="1.5"/><line x1="45" y1="4938" x2="314" y2="4938" stroke-width="2"/><line x1="118" y1="4818" x2="118" y2="4938"/><line x1="191" y1="4818" x2="191" y2="4938"/></g>
<g font-size="12" fill="#444" text-anchor="middle">
<text x="82" y="4836">G/H</text><text x="156" y="4836">H</text><text x="253" y="4836">Art. No.</text>
<text x="82" y="4859" font-weight="bold">0.5</text><text x="156" y="4859">3.0</text><text x="253" y="4859">GHAB 43 05 30</text>
<text x="82" y="4883" font-weight="bold">1.5</text><text x="156" y="4883">2.5</text><text x="253" y="4883">GHAB 43 15 25</text>
<text x="82" y="4907" font-weight="bold">3.5</text><text x="156" y="4907">4.5</text><text x="253" y="4907">GHAB 43 35 45</text>
<text x="82" y="4931" font-weight="bold">5.5</text><text x="156" y="4931">6.5</text><text x="253" y="4931">GHAB 43 55 65</text>
</g>
<g font-size="11" fill="#555" text-anchor="middle"><text x="411" y="4864">Ø 4.3</text><text x="505" y="4864">Ø 4.3</text><text x="601" y="4855">Ø 4.3</text><text x="698" y="4840">Ø 4.3</text></g>
<use href="#ha1" x="396" y="4872" width="30" height="56"/>
<use href="#ha2" x="490" y="4875" width="30" height="53"/>
<use href="#ha2" x="586" y="4862" width="30" height="66"/>
<use href="#ha2" x="683" y="4849" width="30" height="79"/>
<g font-size="7" fill="#555"><text x="376" y="4894">0.5</text><text x="438" y="4886">3.0</text><text x="472" y="4889">1.5</text><text x="532" y="4887">2.5</text><text x="566" y="4883">3.5</text><text x="627" y="4879">4.5</text><text x="663" y="4875">5.5</text><text x="723" y="4869">6.5</text></g>

<text x="45" y="4998" font-size="14" fill="#6d6e71" textLength="112" lengthAdjust="spacingAndGlyphs">Diameter Ø 5.5</text>
<g stroke="#c8c8c8"><line x1="45" y1="5010" x2="314" y2="5010" stroke-width="2"/><line x1="45" y1="5033" x2="314" y2="5033" stroke-width="1.5"/><line x1="45" y1="5129" x2="314" y2="5129" stroke-width="2"/><line x1="118" y1="5010" x2="118" y2="5129"/><line x1="191" y1="5010" x2="191" y2="5129"/></g>
<g font-size="12" fill="#444" text-anchor="middle">
<text x="82" y="5026">G/H</text><text x="156" y="5026">H</text><text x="253" y="5026">Art. No.</text>
<text x="82" y="5051" font-weight="bold">0.5</text><text x="156" y="5051">3.0</text><text x="253" y="5051">GHAB 55 05 30</text>
<text x="82" y="5075" font-weight="bold">1.5</text><text x="156" y="5075">2.5</text><text x="253" y="5075">GHAB 55 15 25</text>
<text x="82" y="5098" font-weight="bold">3.5</text><text x="156" y="5098">4.5</text><text x="253" y="5098">GHAB 55 35 45</text>
<text x="82" y="5121" font-weight="bold">5.5</text><text x="156" y="5121">6.5</text><text x="253" y="5121">GHAB 55 55 65</text>
</g>
<g font-size="11" fill="#555" text-anchor="middle"><text x="411" y="5066">Ø 5.5</text><text x="505" y="5066">Ø 5.5</text><text x="601" y="5048">Ø 5.5</text><text x="698" y="5036">Ø 5.5</text></g>
<use href="#ha1" x="393" y="5071" width="36" height="57"/>
<use href="#ha2" x="487" y="5075" width="36" height="53"/>
<use href="#ha2" x="583" y="5061" width="36" height="67"/>
<use href="#ha2" x="680" y="5048" width="36" height="80"/>
<g font-size="7" fill="#555"><text x="372" y="5093">0.5</text><text x="439" y="5085">3.0</text><text x="466" y="5088">1.5</text><text x="533" y="5086">2.5</text><text x="562" y="5081">3.5</text><text x="630" y="5077">4.5</text><text x="660" y="5074">5.5</text><text x="726" y="5069">6.5</text></g>

<text x="45" y="5163" font-size="11" fill="#777" textLength="473" lengthAdjust="spacingAndGlyphs">※Square driver: Use no more than 5N-cm torque when screwing a cover screw to a fixture</text>
<text x="133" y="5181" font-size="11" fill="#777" textLength="384" lengthAdjust="spacingAndGlyphs">If square is worn, slot on the head of the product can be used to rotate it</text>
</svg>
</body></html>
